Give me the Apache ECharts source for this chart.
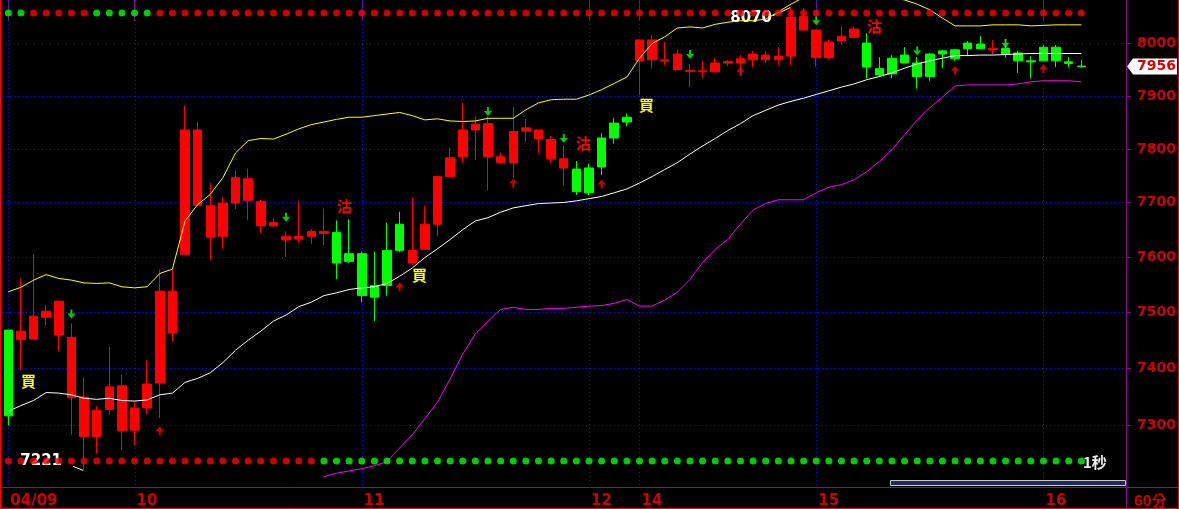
<!DOCTYPE html>
<html><head><meta charset="utf-8">
<script src="https://cdn.jsdelivr.net/npm/echarts@6/dist/echarts.min.js"></script>
<style>html,body{margin:0;padding:0;background:#000;overflow:hidden}#c{width:1179px;height:509px}</style>
</head><body><div id="c"></div>
<script>
// ---------------- DATA ----------------
const dayLabels = ['04/09','10','11','12','14','15','16'];
const dayStarts = [0,10,28,46,50,64,82];
const slotCount = 89;            // 86 bars + empty slots on the right
const opens  = [7316,7466,7493,7502,7520,7455,7349,7326,7367,7369, 7330,7372,7538,7538,7835,7835,7694,7699,7746,7744,
                7702,7663,7638,7638,7647,7647,7589,7592,7530,7527, 7548,7612,7612,7660,7748,7783,7835,7846,7847,7785,
                7832,7839,7835,7817,7781,7720,7718,7766,7820,7850, 8006,8006,7968,7979,7948,7947,7962,7965,7970,7979,
                7977,7975,8050,8051,8025,8002,8013,8027,7954,7939, 7941,7962,7936,7936,7979,7970,7989,7989,7990,7979,
                7966,7964,7966,7966,7961,7955];
const closes = [7468,7451,7452,7491,7459,7348,7280,7280,7327,7290, 7291,7330,7374,7463,7605,7695,7636,7638,7699,7704,
                7657,7657,7631,7633,7638,7643,7645,7606,7606,7548, 7612,7660,7589,7614,7660,7748,7785,7835,7785,7774,
                7774,7833,7819,7781,7764,7762,7764,7820,7848,7859, 7966,7968,7966,7949,7946,7945,7945,7962,7962,7968,
                7968,7968,7975,8025,7972,7972,8004,8011,8000,7951, 7971,7977,7962,7979,7985,7987,8000,7998,7987,7990,
                7981,7966,7992,7992,7964,7956];
const lows   = [7299,7397,7452,7477,7431,7283,7221,7250,7318,7256, 7264,7319,7312,7447,7605,7695,7595,7615,7688,7667,
                7644,7655,7600,7626,7624,7622,7560,7589,7518,7484, 7530,7609,7586,7614,7638,7748,7774,7779,7722,7772,
                7746,7813,7792,7774,7732,7714,7713,7751,7809,7842, 7901,7951,7958,7949,7916,7933,7945,7956,7937,7954,
                7962,7958,7958,8025,7955,7968,7996,8011,7932,7935, 7933,7962,7913,7928,7952,7966,7975,7989,7979,7972,
                7943,7933,7966,7954,7954,7953];
const highs  = [7468,7561,7605,7513,7520,7480,7384,7333,7438,7388, 7342,7415,7577,7579,7881,7850,7736,7710,7759,7763,
                7705,7672,7647,7703,7651,7689,7667,7669,7610,7610, 7663,7683,7709,7694,7750,7802,7886,7861,7861,7792,
                7878,7856,7835,7824,7805,7777,7772,7829,7858,7866, 8006,8015,8002,7987,7960,7966,7971,7968,7977,7985,
                7985,7992,8070,8067,8025,8006,8033,8031,8019,7973, 7977,7992,7973,7981,7987,7989,8004,8013,8006,8008,
                7985,7975,7996,7996,7973,7968];
const upperBand = [7537,7545,7558,7568,7561,7558,7553,7552,7553,7546, 7544,7546,7570,7578,7666,7696,7715,7746,7792,7815,
                   7819,7818,7827,7837,7845,7850,7855,7859,7859,7862, 7865,7868,7862,7854,7856,7852,7851,7852,7857,7857,
                   7857,7873,7886,7892,7893,7893,7901,7911,7923,7935, 7971,7999,8012,8029,8031,8029,8036,8040,8043,8043,
                   8046,8060,8075,8088,8100,8108,8112,8110,8104,8096, 8088,8083,8075,8064,8048,8033,8033,8033,8035,8035,
                   8035,8033,8034,8035,8035,8035];
const midLine   = [7324,7334,7343,7357,7356,7353,7347,7345,7347,7343, 7342,7344,7353,7356,7375,7382,7392,7410,7432,7450,
                   7466,7484,7495,7510,7518,7530,7535,7541,7544,7546, 7552,7565,7580,7599,7615,7632,7650,7666,7672,7682,
                   7690,7694,7698,7699,7700,7703,7707,7711,7718,7725, 7736,7748,7761,7774,7790,7805,7819,7834,7847,7862,
                   7872,7882,7889,7895,7902,7909,7916,7922,7930,7936, 7943,7952,7960,7966,7971,7976,7976,7977,7977,7978,
                   7979,7980,7980,7980,7980,7980];
const lowerBand = [null,null,null,null,null,null,null,null,null,null, null,null,null,null,null,null,null,null,null,null,
                   null,null,null,null,null,7210,7216,7220,7224,7229, 7236,7260,7283,7311,7340,7381,7425,7461,7484,7505,
                   7509,7505,7505,7507,7507,7509,7511,7512,7516,7523, 7511,7511,7522,7536,7559,7590,7614,7632,7660,7686,
                   7698,7705,7705,7705,7718,7728,7733,7742,7757,7776, 7798,7826,7854,7877,7897,7918,7920,7920,7920,7920,
                   7922,7926,7928,7928,7928,7926];
const topDots    = ('GGRRRRRGGG' + 'GGRRRRRRRR' + 'RRRRRRRRRR' + 'RRRRRRRRRR' + 'RRRRRRRRRR' +
                    'RRRRRRRRRR' + 'RRRRRRRRRR' + 'RRRRRRRRRR' + 'RRRRRR').split('');
const bottomDots = ('RRRRRRRRRR' + 'RRRRRRRRRR' + 'RRRRRGGGGG' + 'GGGGGGGGGG' + 'GGGGGGGGGG' +
                    'GGGGGGGGGG' + 'GGGGGGGGGG' + 'GGGGGGGGGG' + 'GGGGGG').split('');
const yTicks = [7300,7400,7500,7600,7700,7800,7900,8000];
const priceRange = [7194, 8083];
const buySignals  = [[1,7377],[32,7567],[50,7882]];
const sellSignals = [[26,7694],[45,7810],[68,8032]];
const upArrows    = [[12,7290],[31,7546],[40,7736],[47,7734],[58,7946],[75,7948],[82,7951]];
const downArrows  = [[5,7497],[22,7673],[38,7870],[44,7819],[54,7978],[64,8043],[72,7985],[79,7999]];
const periodLabel = '60分';
const speedLabel = '1秒';

// ---------------- STYLE ----------------
const PURPLE = '#8c0a8c', GRID_BLUE = '#1818d0', AXIS_RED = '#d00000';
const NUM_FONT = 'bold 14px "DejaVu Sans"';
const L = v => Math.log(v);
const DOT_TOP = 13, DOT_BOTTOM = 462, GRID_H = 487;

const chart = echarts.init(document.getElementById('c'), null, {renderer:'canvas'});
const categories = Array.from({length: slotCount}, (_, i) => 's' + i);

function renderYTick(params, api) {
  const cs = params.coordSys;
  const y = Math.round(api.coord([0, api.value(1)])[1]) + 0.5;
  const xr = Math.round(cs.x + cs.width);
  return {type:'group', children:[
    {type:'line', shape:{x1:cs.x, y1:y, x2:xr, y2:y}, style:{stroke:GRID_BLUE, lineWidth:1, lineDash:[1,3]}},
    {type:'line', shape:{x1:xr, y1:y, x2:xr+5, y2:y}, style:{stroke:PURPLE, lineWidth:1}},
    {type:'text', x:xr+11, y:y, style:{text:String(api.value(2)), fill:AXIS_RED, font:NUM_FONT, align:'left', verticalAlign:'middle'}}
  ]};
}
function renderDayLine(params, api) {
  const cs = params.coordSys;
  const x = Math.round(api.coord([api.value(0), 0])[0]) + 0.5;
  return {type:'line', shape:{x1:x, y1:cs.y, x2:x, y2:cs.y + cs.height}, style:{stroke:GRID_BLUE, lineWidth:1, lineDash:[1,3]}};
}
function renderExtreme(params, api) {
  const p = api.coord([api.value(0), api.value(1)]);
  const kind = api.value(3);
  const txt = String(api.value(2));
  const font = 'bold 15px "DejaVu Sans"';
  if (kind > 0) {
    return {type:'group', children:[
      {type:'line', shape:{x1:p[0]-18, y1:p[1]+9, x2:p[0]-1, y2:p[1]+1}, style:{stroke:'#ffffff', lineWidth:1}},
      {type:'text', x:p[0]-19, y:p[1]+11, style:{text:txt, fill:'#ffffff', font:font, align:'right', verticalAlign:'middle'}}
    ]};
  }
  return {type:'group', children:[
    {type:'line', shape:{x1:p[0]-11, y1:p[1]-4, x2:p[0]-1, y2:p[1]}, style:{stroke:'#ffffff', lineWidth:1}},
    {type:'text', x:p[0]-22, y:p[1]-9, style:{text:txt, fill:'#ffffff', font:font, align:'right', verticalAlign:'middle'}}
  ]};
}
function signalText(text, color) {
  return (params, api) => {
    const p = api.coord([api.value(0), api.value(1)]);
    return {type:'text', x:Math.round(p[0]), y:Math.round(p[1]),
      style:{text:text, fill:color, font:'bold 15px "Noto Sans CJK TC"', align:'left', verticalAlign:'middle'}};
  };
}
function renderTag(params, api) {
  const cs = params.coordSys;
  const y = Math.round(api.coord([api.value(0), api.value(1)])[1]) + 0.5;
  const x0 = Math.round(cs.x + cs.width) + 1;
  return {type:'group', children:[
    {type:'polygon', shape:{points:[[x0,y],[x0+6,y-8],[x0+50,y-8],[x0+50,y+8],[x0+6,y+8]]}, style:{fill:'#ffffff'}},
    {type:'text', x:x0+10, y:y, style:{text:String(api.value(2)), fill:'#e00000', font:'bold 14px "DejaVu Sans"', align:'left', verticalAlign:'middle'}}
  ]};
}

let iMax = 0, iMin = 0;
highs.forEach((v, i) => { if (v > highs[iMax]) iMax = i; });
lows.forEach((v, i) => { if (v < lows[iMin]) iMin = i; });
const last = closes.length - 1;

const option = {
  backgroundColor: '#000000',
  animation: false,
  grid: {left: 2, right: 53.5, top: 0, bottom: 22},
  xAxis: {
    type: 'category', data: categories, boundaryGap: true,
    axisLine: {show: false},
    axisTick: {show: true, alignWithLabel: true, length: 21, lineStyle: {color: PURPLE, width: 1},
               interval: (idx) => dayStarts.indexOf(idx) >= 0},
    axisLabel: {interval: 0, margin: 8, align: 'left', padding: [0,0,0,2], color: AXIS_RED,
                fontFamily: 'DejaVu Sans', fontWeight: 'bold', fontSize: 15, lineHeight: 15,
                formatter: (v, idx) => { const k = dayStarts.indexOf(idx); return k >= 0 ? dayLabels[k] : ''; }},
    splitLine: {show: false}
  },
  yAxis: [
    {type: 'value', min: L(priceRange[0]), max: L(priceRange[1]), show: false, scale: true},
    {type: 'value', min: 0, max: GRID_H, inverse: true, show: false}
  ],
  series: [
    {type:'custom', name:'ygrid', clip:false, z:1, silent:true, renderItem: renderYTick,
     encode:{x:0, y:1}, data: yTicks.map(v => [0, L(v), v])},
    {type:'custom', name:'xgrid', clip:false, z:1, silent:true, renderItem: renderDayLine,
     encode:{x:0, y:1}, data: dayStarts.map(i => [i, L(priceRange[0])])},
    {type:'candlestick', name:'K', z:2, barWidth: 9, silent:true,
     itemStyle:{color:'#00ff00', color0:'#ff0000', borderColor:'#00ff00', borderColor0:'#ff0000', borderWidth:1},
     data: opens.map((o, i) => [L(o), L(closes[i]), L(lows[i]), L(highs[i])])},
    {type:'custom', name:'extremes', clip:false, z:3, silent:true, renderItem: renderExtreme,
     encode:{x:0, y:1}, data: [[iMax, L(highs[iMax]), highs[iMax], 1], [iMin, L(lows[iMin]), lows[iMin], -1]]},
    {type:'line', name:'upper', z:4, showSymbol:false, silent:true, lineStyle:{color:'#ffff00', width:1}, data: upperBand.map(L)},
    {type:'line', name:'mid', z:4, showSymbol:false, silent:true, lineStyle:{color:'#ffffff', width:1}, data: midLine.map(L)},
    {type:'line', name:'lower', z:4, showSymbol:false, silent:true, lineStyle:{color:'#ff00ff', width:1},
     data: lowerBand.map(v => v == null ? null : L(v))},
    {type:'scatter', name:'down', z:5, silent:true, symbol:'path://M3,0L5,0L5,4L8,4L4,9L0,4L3,4Z', symbolSize:[8,9],
     itemStyle:{color:'#00ff00'}, data: downArrows.map(d => [d[0], L(d[1])])},
    {type:'scatter', name:'up', z:5, silent:true, symbol:'path://M4,0L8,5L5,5L5,9L3,9L3,5L0,5Z', symbolSize:[8,9],
     itemStyle:{color:'#ff0000'}, data: upArrows.map(d => [d[0], L(d[1])])},
    {type:'custom', name:'buy', clip:false, z:5, silent:true, renderItem: signalText('買', '#ffff00'),
     encode:{x:0, y:1}, data: buySignals.map(d => [d[0], L(d[1])])},
    {type:'custom', name:'sell', clip:false, z:5, silent:true, renderItem: signalText('沽', '#ff0000'),
     encode:{x:0, y:1}, data: sellSignals.map(d => [d[0], L(d[1])])},
    {type:'scatter', name:'topDots', z:6, silent:true, yAxisIndex:1, symbol:'circle', symbolSize:7,
     itemStyle:{color: p => topDots[p.dataIndex] === 'G' ? '#00ff00' : '#ff0000'},
     data: topDots.map((c, i) => [i, DOT_TOP])},
    {type:'scatter', name:'bottomDots', z:6, silent:true, yAxisIndex:1, symbol:'circle', symbolSize:7,
     itemStyle:{color: p => bottomDots[p.dataIndex] === 'G' ? '#00ff00' : '#ff0000'},
     data: bottomDots.map((c, i) => [i, DOT_BOTTOM])},
    {type:'custom', name:'tag', clip:false, z:7, silent:true, renderItem: renderTag,
     encode:{x:0, y:1}, data: [[last, L(closes[last]), closes[last]]]}
  ],
  graphic: [
    {type:'line', silent:true, z:10, shape:{x1:0, y1:487.5, x2:1179, y2:487.5}, style:{stroke:PURPLE, lineWidth:1}},
    {type:'line', silent:true, z:10, shape:{x1:1126.5, y1:0, x2:1126.5, y2:509}, style:{stroke:PURPLE, lineWidth:1}},
    {type:'line', silent:true, z:10, shape:{x1:0.5, y1:0, x2:0.5, y2:509}, style:{stroke:'#ff0000', lineWidth:1}},
    {type:'line', silent:true, z:10, shape:{x1:0, y1:508.5, x2:1179, y2:508.5}, style:{stroke:'#ff0000', lineWidth:1}},
    {type:'line', silent:true, z:10, shape:{x1:1178.5, y1:0, x2:1178.5, y2:509}, style:{stroke:'#ff0000', lineWidth:1}},
    {type:'rect', silent:true, z:10, shape:{x:890.5, y:480.5, width:235, height:5}, style:{fill:'#1b2b5c', stroke:'#c8c8c8', lineWidth:1}},
    {type:'text', silent:true, z:10, x:1134, y:500, style:{text:periodLabel, fill:AXIS_RED, font:'bold 15px "Noto Sans CJK TC"', verticalAlign:'middle'}},
    {type:'text', silent:true, z:10, x:1083, y:462, style:{text:speedLabel, fill:'#eeeeee', font:'bold 15px "Noto Sans CJK TC"', verticalAlign:'middle'}}
  ]
};
chart.setOption(option);
</script>
</body></html>
